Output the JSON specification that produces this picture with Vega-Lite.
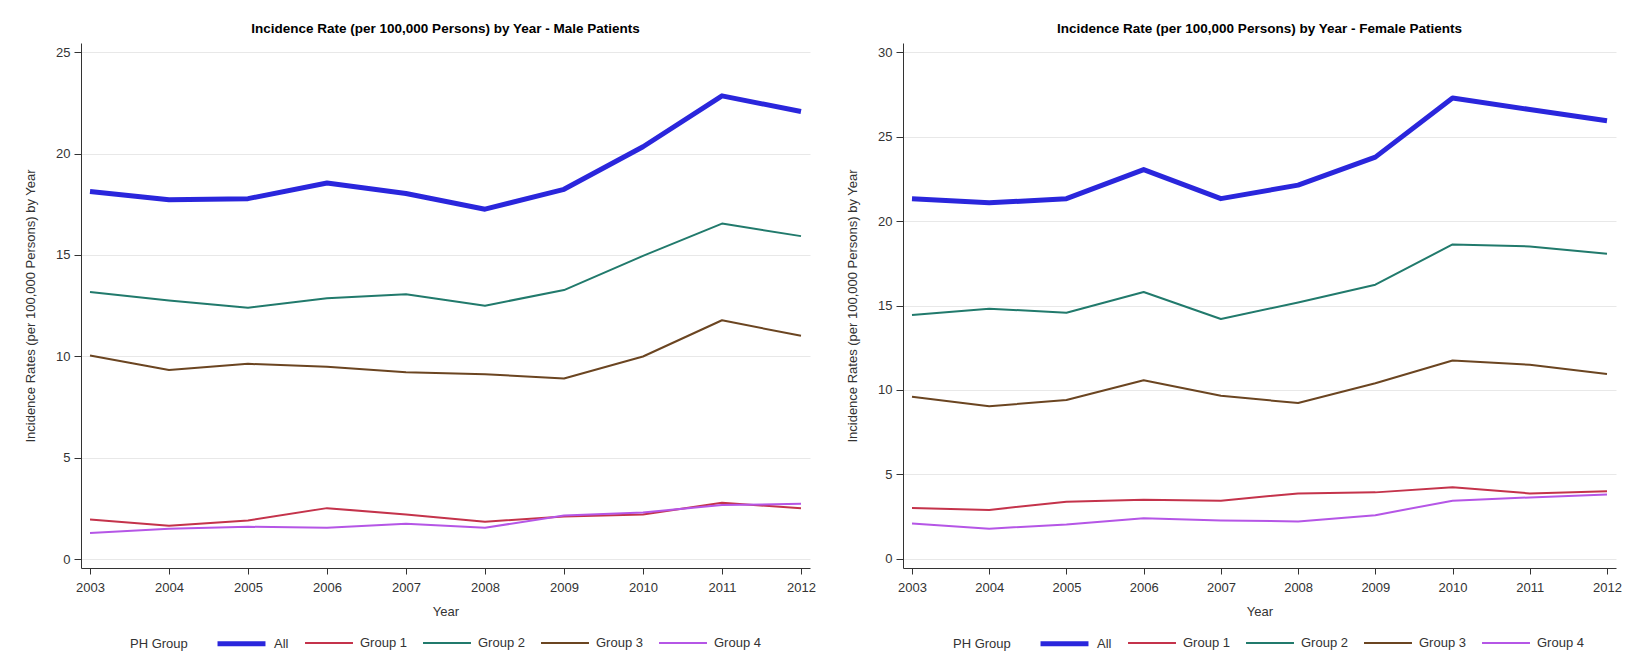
{
  "$schema": "https://vega.github.io/schema/vega-lite/v6.json",
  "background": "white",
  "padding": {"left": 24, "top": 21, "right": 0, "bottom": 0},
  "config": {
    "font": "Liberation Sans",
    "view": {"stroke": null},
    "axis": {
      "domainColor": "#333333",
      "tickColor": "#333333",
      "labelColor": "#333333",
      "titleColor": "#333333",
      "labelFontSize": 13,
      "titleFontSize": 13,
      "titleFontWeight": "normal",
      "gridColor": "#e8e8e8",
      "labelFont": "Liberation Sans",
      "titleFont": "Liberation Sans"
    },
    "axisX": {"tickSize": 6, "labelPadding": 7, "titlePadding": 11, "grid": false, "labelFlush": false},
    "axisY": {"tickSize": 7, "labelPadding": 4, "titlePadding": 18, "grid": true},
    "title": {"fontSize": 13.5, "fontWeight": "bold", "color": "#000000", "font": "Liberation Sans", "offset": 8, "frame": "group", "anchor": "middle"},
    "legend": {
      "orient": "none",
      "direction": "horizontal",
      "titleOrient": "left",
      "titleAnchor": "middle",
      "titleBaseline": "line-top",
      "titleLineHeight": 20,
      "titleFontSize": 13,
      "titleFontWeight": "normal",
      "titleColor": "#333333",
      "titlePadding": 27,
      "labelFontSize": 13,
      "labelColor": "#333333",
      "labelOffset": 6,
      "columnPadding": 15,
      "symbolType": "stroke",
      "symbolSize": 2300,
      "padding": 0
    },
    "line": {"strokeJoin": "round", "strokeCap": "butt"}
  },
  "datasets": {
    "rates": [
      {"sex": "Male", "group": "All", "year": 2003, "rate": 18.13},
      {"sex": "Male", "group": "All", "year": 2004, "rate": 17.73},
      {"sex": "Male", "group": "All", "year": 2005, "rate": 17.78},
      {"sex": "Male", "group": "All", "year": 2006, "rate": 18.55},
      {"sex": "Male", "group": "All", "year": 2007, "rate": 18.03},
      {"sex": "Male", "group": "All", "year": 2008, "rate": 17.26},
      {"sex": "Male", "group": "All", "year": 2009, "rate": 18.24},
      {"sex": "Male", "group": "All", "year": 2010, "rate": 20.34},
      {"sex": "Male", "group": "All", "year": 2011, "rate": 22.85},
      {"sex": "Male", "group": "All", "year": 2012, "rate": 22.08},
      {"sex": "Male", "group": "Group 1", "year": 2003, "rate": 1.95},
      {"sex": "Male", "group": "Group 1", "year": 2004, "rate": 1.64},
      {"sex": "Male", "group": "Group 1", "year": 2005, "rate": 1.90},
      {"sex": "Male", "group": "Group 1", "year": 2006, "rate": 2.51},
      {"sex": "Male", "group": "Group 1", "year": 2007, "rate": 2.20},
      {"sex": "Male", "group": "Group 1", "year": 2008, "rate": 1.84},
      {"sex": "Male", "group": "Group 1", "year": 2009, "rate": 2.10},
      {"sex": "Male", "group": "Group 1", "year": 2010, "rate": 2.20},
      {"sex": "Male", "group": "Group 1", "year": 2011, "rate": 2.77},
      {"sex": "Male", "group": "Group 1", "year": 2012, "rate": 2.51},
      {"sex": "Male", "group": "Group 2", "year": 2003, "rate": 13.17},
      {"sex": "Male", "group": "Group 2", "year": 2004, "rate": 12.76},
      {"sex": "Male", "group": "Group 2", "year": 2005, "rate": 12.40},
      {"sex": "Male", "group": "Group 2", "year": 2006, "rate": 12.86},
      {"sex": "Male", "group": "Group 2", "year": 2007, "rate": 13.06},
      {"sex": "Male", "group": "Group 2", "year": 2008, "rate": 12.50},
      {"sex": "Male", "group": "Group 2", "year": 2009, "rate": 13.27},
      {"sex": "Male", "group": "Group 2", "year": 2010, "rate": 14.96},
      {"sex": "Male", "group": "Group 2", "year": 2011, "rate": 16.55},
      {"sex": "Male", "group": "Group 2", "year": 2012, "rate": 15.93},
      {"sex": "Male", "group": "Group 3", "year": 2003, "rate": 10.04},
      {"sex": "Male", "group": "Group 3", "year": 2004, "rate": 9.32},
      {"sex": "Male", "group": "Group 3", "year": 2005, "rate": 9.63},
      {"sex": "Male", "group": "Group 3", "year": 2006, "rate": 9.48},
      {"sex": "Male", "group": "Group 3", "year": 2007, "rate": 9.22},
      {"sex": "Male", "group": "Group 3", "year": 2008, "rate": 9.12},
      {"sex": "Male", "group": "Group 3", "year": 2009, "rate": 8.91},
      {"sex": "Male", "group": "Group 3", "year": 2010, "rate": 9.99},
      {"sex": "Male", "group": "Group 3", "year": 2011, "rate": 11.78},
      {"sex": "Male", "group": "Group 3", "year": 2012, "rate": 11.01},
      {"sex": "Male", "group": "Group 4", "year": 2003, "rate": 1.28},
      {"sex": "Male", "group": "Group 4", "year": 2004, "rate": 1.49},
      {"sex": "Male", "group": "Group 4", "year": 2005, "rate": 1.59},
      {"sex": "Male", "group": "Group 4", "year": 2006, "rate": 1.54},
      {"sex": "Male", "group": "Group 4", "year": 2007, "rate": 1.74},
      {"sex": "Male", "group": "Group 4", "year": 2008, "rate": 1.54},
      {"sex": "Male", "group": "Group 4", "year": 2009, "rate": 2.15},
      {"sex": "Male", "group": "Group 4", "year": 2010, "rate": 2.30},
      {"sex": "Male", "group": "Group 4", "year": 2011, "rate": 2.66},
      {"sex": "Male", "group": "Group 4", "year": 2012, "rate": 2.72},
      {"sex": "Female", "group": "All", "year": 2003, "rate": 21.33},
      {"sex": "Female", "group": "All", "year": 2004, "rate": 21.08},
      {"sex": "Female", "group": "All", "year": 2005, "rate": 21.33},
      {"sex": "Female", "group": "All", "year": 2006, "rate": 23.05},
      {"sex": "Female", "group": "All", "year": 2007, "rate": 21.33},
      {"sex": "Female", "group": "All", "year": 2008, "rate": 22.13},
      {"sex": "Female", "group": "All", "year": 2009, "rate": 23.79},
      {"sex": "Female", "group": "All", "year": 2010, "rate": 27.29},
      {"sex": "Female", "group": "All", "year": 2011, "rate": 26.61},
      {"sex": "Female", "group": "All", "year": 2012, "rate": 25.94},
      {"sex": "Female", "group": "Group 1", "year": 2003, "rate": 3.01},
      {"sex": "Female", "group": "Group 1", "year": 2004, "rate": 2.89},
      {"sex": "Female", "group": "Group 1", "year": 2005, "rate": 3.38},
      {"sex": "Female", "group": "Group 1", "year": 2006, "rate": 3.50},
      {"sex": "Female", "group": "Group 1", "year": 2007, "rate": 3.44},
      {"sex": "Female", "group": "Group 1", "year": 2008, "rate": 3.87},
      {"sex": "Female", "group": "Group 1", "year": 2009, "rate": 3.93},
      {"sex": "Female", "group": "Group 1", "year": 2010, "rate": 4.24},
      {"sex": "Female", "group": "Group 1", "year": 2011, "rate": 3.87},
      {"sex": "Female", "group": "Group 1", "year": 2012, "rate": 4.00},
      {"sex": "Female", "group": "Group 2", "year": 2003, "rate": 14.44},
      {"sex": "Female", "group": "Group 2", "year": 2004, "rate": 14.81},
      {"sex": "Female", "group": "Group 2", "year": 2005, "rate": 14.57},
      {"sex": "Female", "group": "Group 2", "year": 2006, "rate": 15.80},
      {"sex": "Female", "group": "Group 2", "year": 2007, "rate": 14.20},
      {"sex": "Female", "group": "Group 2", "year": 2008, "rate": 15.18},
      {"sex": "Female", "group": "Group 2", "year": 2009, "rate": 16.23},
      {"sex": "Female", "group": "Group 2", "year": 2010, "rate": 18.62},
      {"sex": "Female", "group": "Group 2", "year": 2011, "rate": 18.50},
      {"sex": "Female", "group": "Group 2", "year": 2012, "rate": 18.07},
      {"sex": "Female", "group": "Group 3", "year": 2003, "rate": 9.59},
      {"sex": "Female", "group": "Group 3", "year": 2004, "rate": 9.03},
      {"sex": "Female", "group": "Group 3", "year": 2005, "rate": 9.40},
      {"sex": "Female", "group": "Group 3", "year": 2006, "rate": 10.57},
      {"sex": "Female", "group": "Group 3", "year": 2007, "rate": 9.65},
      {"sex": "Female", "group": "Group 3", "year": 2008, "rate": 9.22},
      {"sex": "Female", "group": "Group 3", "year": 2009, "rate": 10.39},
      {"sex": "Female", "group": "Group 3", "year": 2010, "rate": 11.74},
      {"sex": "Female", "group": "Group 3", "year": 2011, "rate": 11.49},
      {"sex": "Female", "group": "Group 3", "year": 2012, "rate": 10.94},
      {"sex": "Female", "group": "Group 4", "year": 2003, "rate": 2.09},
      {"sex": "Female", "group": "Group 4", "year": 2004, "rate": 1.78},
      {"sex": "Female", "group": "Group 4", "year": 2005, "rate": 2.03},
      {"sex": "Female", "group": "Group 4", "year": 2006, "rate": 2.40},
      {"sex": "Female", "group": "Group 4", "year": 2007, "rate": 2.27},
      {"sex": "Female", "group": "Group 4", "year": 2008, "rate": 2.21},
      {"sex": "Female", "group": "Group 4", "year": 2009, "rate": 2.58},
      {"sex": "Female", "group": "Group 4", "year": 2010, "rate": 3.44},
      {"sex": "Female", "group": "Group 4", "year": 2011, "rate": 3.63},
      {"sex": "Female", "group": "Group 4", "year": 2012, "rate": 3.81}
    ]
  },
  "bounds": "flush",
  "spacing": 93,
  "resolve": {
    "scale": {"x": "independent", "y": "independent", "color": "independent", "strokeWidth": "independent"},
    "legend": {"color": "independent", "strokeWidth": "independent"}
  },
  "hconcat": [
    {
      "width": 729,
      "height": 525,
      "title": "Incidence Rate (per 100,000 Persons) by Year - Male Patients",
      "data": {"name": "rates"},
      "transform": [{"filter": "datum.sex === 'Male'"}],
      "mark": {"type": "line"},
      "encoding": {
        "x": {
          "field": "year", "type": "quantitative", "title": "Year",
          "scale": {"domain": [2002.886, 2012.114], "nice": false, "zero": false},
          "axis": {"values": [2003, 2004, 2005, 2006, 2007, 2008, 2009, 2010, 2011, 2012], "format": "d"}
        },
        "y": {
          "field": "rate", "type": "quantitative", "title": "Incidence Rates (per 100,000 Persons) by Year",
          "scale": {"domain": [-0.444, 25.459], "nice": false, "zero": false},
          "axis": {"values": [0, 5, 10, 15, 20, 25]}
        },
        "color": {
          "field": "group", "type": "nominal", "title": "PH Group",
          "scale": {"domain": ["All", "Group 1", "Group 2", "Group 3", "Group 4"], "range": ["#2a26dc", "#c4334b", "#217a6c", "#6b4521", "#b556e6"]},
          "legend": {"legendX": 49, "legendY": 574}
        },
        "strokeWidth": {
          "field": "group", "type": "nominal", "title": "PH Group",
          "scale": {"type": "ordinal", "domain": ["All", "Group 1", "Group 2", "Group 3", "Group 4"], "range": [5, 2, 2, 2, 2]},
          "legend": {"legendX": 49, "legendY": 574}
        }
      }
    },
    {
      "width": 713,
      "height": 525,
      "title": "Incidence Rate (per 100,000 Persons) by Year - Female Patients",
      "data": {"name": "rates"},
      "transform": [{"filter": "datum.sex === 'Female'"}],
      "mark": {"type": "line"},
      "encoding": {
        "x": {
          "field": "year", "type": "quantitative", "title": "Year",
          "scale": {"domain": [2002.8835, 2012.1165], "nice": false, "zero": false},
          "axis": {"values": [2003, 2004, 2005, 2006, 2007, 2008, 2009, 2010, 2011, 2012], "format": "d"}
        },
        "y": {
          "field": "rate", "type": "quantitative", "title": "Incidence Rates (per 100,000 Persons) by Year",
          "scale": {"domain": [-0.55, 30.55], "nice": false, "zero": false},
          "axis": {"values": [0, 5, 10, 15, 20, 25, 30]}
        },
        "color": {
          "field": "group", "type": "nominal", "title": "PH Group",
          "scale": {"domain": ["All", "Group 1", "Group 2", "Group 3", "Group 4"], "range": ["#2a26dc", "#c4334b", "#217a6c", "#6b4521", "#b556e6"]},
          "legend": {"legendX": 50, "legendY": 574}
        },
        "strokeWidth": {
          "field": "group", "type": "nominal", "title": "PH Group",
          "scale": {"type": "ordinal", "domain": ["All", "Group 1", "Group 2", "Group 3", "Group 4"], "range": [5, 2, 2, 2, 2]},
          "legend": {"legendX": 50, "legendY": 574}
        }
      }
    }
  ]
}
